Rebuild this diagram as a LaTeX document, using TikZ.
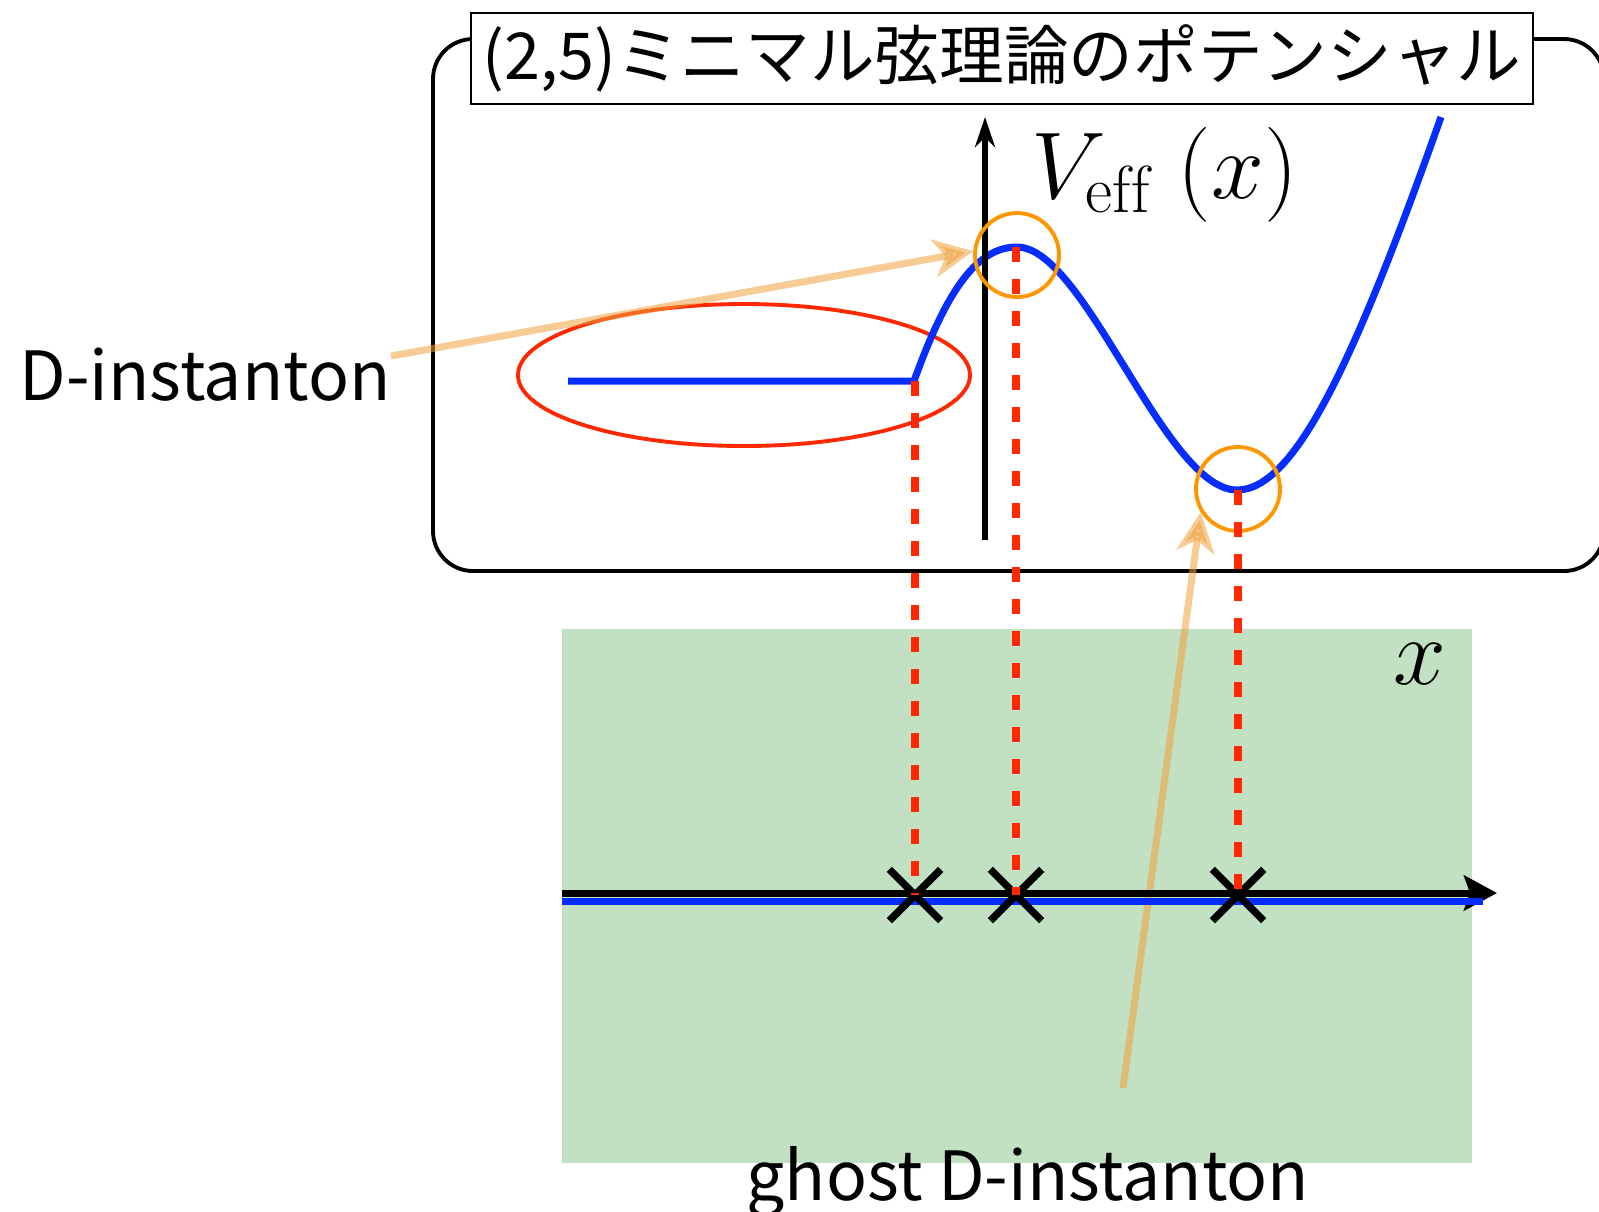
\RequirePackage{fix-cm}
\documentclass[tikz,border=0pt]{standalone}
\usepackage{fontspec}
\newfontfamily\jpfont{Noto Sans CJK JP}
\usetikzlibrary{arrows.meta,shapes.geometric,shapes.misc}
\definecolor{curveblue}{RGB}{5,45,255}
\definecolor{dropred}{RGB}{255,40,0}
\definecolor{ringorange}{RGB}{255,150,0}
\definecolor{peach}{RGB}{240,160,60}
\definecolor{planegreen}{RGB}{194,225,194}

\begin{document}
\begin{tikzpicture}[
		curve/.style={curveblue, line width=2pt},
		drop/.style={dropred, line width=2.1pt, dash pattern=on 4.3pt off 4.8pt},
		ring/.style={draw=ringorange, circle, line width=1.1pt, minimum size=0.84cm, inner sep=0pt},
		pointer/.style={peach, opacity=0.55, line width=2pt, -{Stealth[length=0.4cm, width=0.38cm, inset=0.12cm]}},
		zero/.style={draw, cross out, line width=2.1pt, minimum size=0.44cm, inner sep=0pt},
		mathlabel/.style={font=\fontsize{27}{30}\selectfont, inner sep=0pt},
		jplabel/.style={font=\jpfont\fontsize{19.3}{22}\selectfont, inner sep=0pt, anchor=base}
	]
	\useasboundingbox (0,0) rectangle (15.99,-12.11);

	\begin{scope}
		\draw[line width=1.1pt, rounded corners=0.4cm] (4.33,-0.39) rectangle (16.04,-5.71);
		\node[draw, fill=white, line width=0.6pt, minimum width=10.62cm, minimum height=0.91cm, inner sep=0pt, font=\jpfont\fontsize{18.4}{22}\selectfont] (title) at (10.02,-0.585) {(2,5)ミニマル弦理論のポテンシャル};

		\node[draw=dropred, ellipse, line width=1.1pt, minimum width=4.52cm, minimum height=1.42cm, inner sep=0pt] (flat) at (7.44,-3.75) {};

		\coordinate (start) at (5.68,-3.81);
		\coordinate (kink) at (9.14,-3.81);
		\coordinate (peak) at (10.17,-2.47);
		\coordinate (well) at (12.37,-4.90);
		\coordinate (tip) at (14.41,-1.17);
		\draw[curve] (start) -- (kink) .. controls (9.45,-2.95) and (9.75,-2.47) .. (peak)
			.. controls (10.85,-2.47) and (11.65,-4.90) .. (well)
			.. controls (12.95,-4.90) and (13.55,-3.6) .. (tip);

		\coordinate (vbot) at (9.85,-5.40);
		\coordinate (vtop) at (9.85,-1.17);
		\draw[line width=1.7pt, -{Stealth[length=0.3cm, width=0.2cm]}] (vbot) -- (vtop);
		\node[mathlabel, anchor=base west] (veff) at (10.31,-1.985) {$V_{\mathrm{eff}}\;(x)$};

		\node[ring] (crest) at (10.17,-2.55) {};
		\node[ring] (trough) at (12.38,-4.89) {};
	\end{scope}

	\begin{scope}
		\fill[planegreen] (5.62,-6.29) rectangle (14.72,-11.63);
		\node[mathlabel, anchor=base] (xlabel) at (14.20,-6.84) {$x$};

		\coordinate (gtail) at (11.23,-10.88);
		\draw[pointer] (gtail) -- (trough.212);

		\coordinate (xleft) at (5.62,-8.93);
		\coordinate (xright) at (14.97,-8.93);
		\coordinate (bleft) at (5.62,-9.01);
		\coordinate (bright) at (14.83,-9.01);
		\draw[line width=2pt, -{Stealth[length=0.33cm, width=0.35cm, inset=0.06cm]}] (xleft) -- (xright);
		\draw[curve] (bleft) -- (bright);

		\node[zero] (z1) at (9.15,-8.95) {};
		\node[zero] (z2) at (10.16,-8.95) {};
		\node[zero] (z3) at (12.38,-8.95) {};

		\draw[drop] (z1.center |- kink) -- (z1.center);
		\draw[drop] (z2.center |- peak) -- (z2.center);
		\draw[drop] (z3.center |- well) -- (z3.center);
	\end{scope}

	\node[jplabel] (dlabel) at (2.05,-4.00) {D-instanton};
	\coordinate (dtail) at (3.91,-3.56);
	\draw[pointer] (dtail) -- (crest.175);
	\node[jplabel] (ghostlabel) at (10.28,-12.00) {ghost D-instanton};
\end{tikzpicture}
\end{document}
